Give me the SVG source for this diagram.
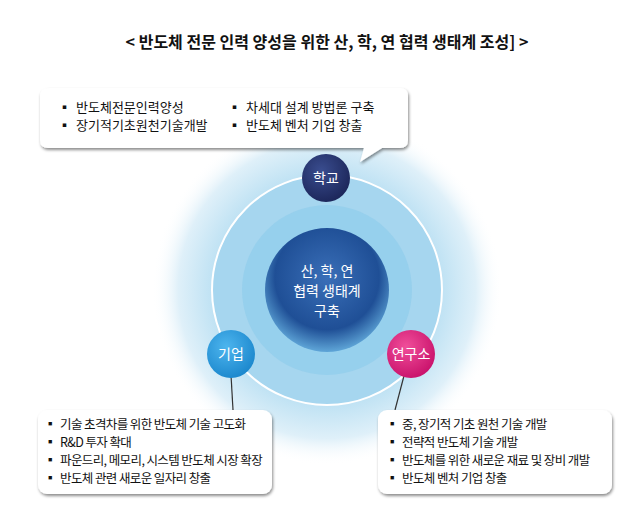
<svg xmlns="http://www.w3.org/2000/svg" width="640" height="527" viewBox="0 0 640 527">
<defs>
<radialGradient id="halo" cx="0.5" cy="0.5" r="0.5">
<stop offset="0" stop-color="#7fc3e6"/><stop offset="0.6" stop-color="#b6def2"/><stop offset="0.85" stop-color="#dff0f9"/><stop offset="1" stop-color="#ffffff" stop-opacity="0"/>
</radialGradient>
<radialGradient id="core" cx="0.5" cy="0.4" r="0.6">
<stop offset="0" stop-color="#3a6fb8"/><stop offset="0.7" stop-color="#1f4f96"/><stop offset="1" stop-color="#5fa6d8"/>
</radialGradient>
<radialGradient id="school" cx="0.4" cy="0.35" r="0.7"><stop offset="0" stop-color="#3a4d8f"/><stop offset="1" stop-color="#1b2558"/></radialGradient>
<radialGradient id="firm" cx="0.4" cy="0.35" r="0.7"><stop offset="0" stop-color="#4db5ee"/><stop offset="1" stop-color="#1a86cc"/></radialGradient>
<radialGradient id="lab" cx="0.4" cy="0.35" r="0.7"><stop offset="0" stop-color="#f04e9a"/><stop offset="1" stop-color="#c8106a"/></radialGradient>
<filter id="sh" x="-10%" y="-10%" width="120%" height="130%"><feDropShadow dx="1" dy="2" stdDeviation="1.5" flood-color="#000" flood-opacity="0.45"/></filter>
</defs>
<style>
text{font-family:"Noto Sans CJK KR","Noto Sans",sans-serif;fill:#111}
.b{font-size:13px}
.c{font-size:12.5px;letter-spacing:-0.6px}
.w{fill:#fff;font-size:14px}
.box{fill:#fff;filter:url(#sh)}
</style>
<rect width="640" height="527" fill="#fff"/>
<text x="327" y="48" text-anchor="middle" font-size="16" font-weight="bold">&lt; 반도체 전문 인력 양성을 위한 산, 학, 연 협력 생태계 조성] &gt;</text>
<circle cx="327" cy="290" r="175" fill="url(#halo)"/>
<circle cx="327" cy="290" r="115" fill="#a6d6ef" stroke="#fff" stroke-width="2"/>
<circle cx="327" cy="290" r="85" fill="#8ccbeb" opacity="0.6"/>
<g id="connectors" stroke="#333" stroke-width="1.2" fill="none">
<line x1="231" y1="375" x2="233" y2="410"/>
<line x1="405" y1="372" x2="395" y2="410"/>
</g>
<g id="center"><circle cx="327" cy="290" r="62" fill="url(#core)"/>
<text class="w" x="327" y="276" text-anchor="middle">산, 학, 연</text>
<text class="w" x="327" y="296" text-anchor="middle">협력 생태계</text>
<text class="w" x="327" y="316" text-anchor="middle">구축</text></g>
<g id="school"><circle cx="326" cy="178" r="24" fill="url(#school)"/><text class="w" x="326" y="183" text-anchor="middle">학교</text></g>
<g id="firm"><circle cx="231" cy="354" r="24" fill="url(#firm)"/><text class="w" x="231" y="359" text-anchor="middle">기업</text></g>
<g id="lab"><circle cx="411" cy="354" r="24" fill="url(#lab)"/><text class="w" x="411" y="359" text-anchor="middle">연구소</text></g>
<g id="box-school"><path class="box" d="M50 88 H400 Q408 88 408 96 V140 Q408 148 400 148 H382 L360 162 L364 148 H48 Q40 148 40 140 V96 Q40 88 50 88 Z"/>
<g class="b"><text x="58" y="112">▪</text><text x="76" y="112">반도체전문인력양성</text>
<text x="58" y="130">▪</text><text x="76" y="130">장기적기초원천기술개발</text>
<text x="228" y="112">▪</text><text x="246" y="112">차세대 설계 방법론 구축</text>
<text x="228" y="130">▪</text><text x="246" y="130">반도체 벤처 기업 창출</text></g></g>
<g id="box-firm"><rect class="box" x="38" y="410" width="234" height="84" rx="9"/>
<g class="c"><text x="44" y="429">▪</text><text x="60" y="429">기술 초격차를 위한 반도체 기술 고도화</text>
<text x="44" y="447">▪</text><text x="60" y="447">R&amp;D 투자 확대</text>
<text x="44" y="465">▪</text><text x="60" y="465">파운드리, 메모리, 시스템 반도체 시장 확장</text>
<text x="44" y="483">▪</text><text x="60" y="483">반도체 관련 새로운 일자리 창출</text></g></g>
<g id="box-lab"><rect class="box" x="378" y="410" width="234" height="84" rx="9"/>
<g class="c"><text x="386" y="429">▪</text><text x="402" y="429">중, 장기적 기초 원천 기술 개발</text>
<text x="386" y="447">▪</text><text x="402" y="447">전략적 반도체 기술 개발</text>
<text x="386" y="465">▪</text><text x="402" y="465">반도체를 위한 새로운 재료 및 장비 개발</text>
<text x="386" y="483">▪</text><text x="402" y="483">반도체 벤처 기업 창출</text></g></g>
</svg>
